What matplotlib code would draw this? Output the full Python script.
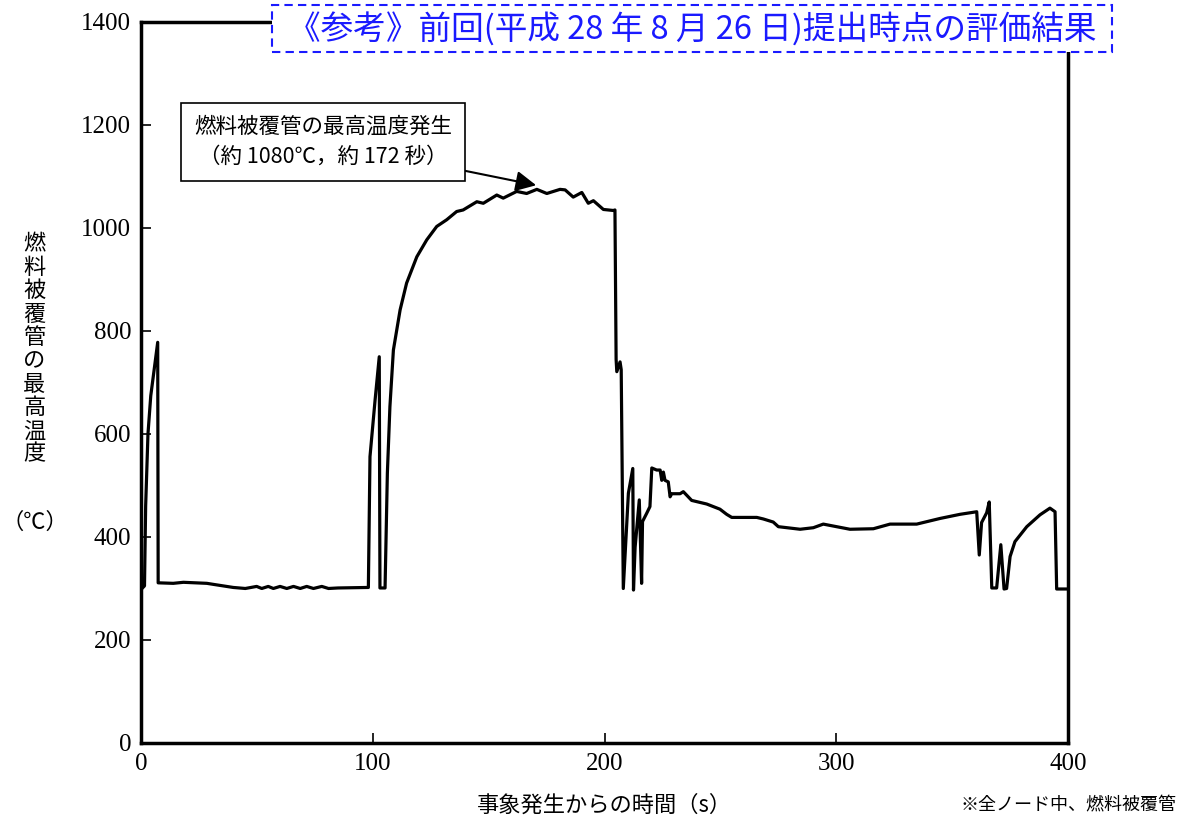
import matplotlib
matplotlib.use("Agg")
import matplotlib.pyplot as plt
from matplotlib.patches import Rectangle

plt.rcParams['font.family'] = ['Noto Sans CJK JP', 'DejaVu Sans']

# 燃料被覆管の最高温度（読み取り値）
time_s = [0, 1.5, 2.0, 3.0, 4.2, 7.2, 7.4, 13.9, 18.3, 28.4, 31.2, 39.8, 45,
          49.9, 52.1, 54.9, 57.1, 60, 62.9, 65.8, 68.7, 71.5, 74.4, 78, 80.9, 85,
          98.1, 98.8, 101, 102.8, 103.1, 105.3, 106.3, 107.4, 108.9, 111.8, 114.6,
          119, 123.3, 127.6, 131.9, 136.2, 139, 144.9, 147.7, 153.5, 156.3, 162.1,
          166.4, 170.8, 175.1, 180.8, 183, 186.5, 190.2, 193, 195.2, 199.5, 203.8,
          204.5, 205.0, 205.3, 206.7, 207.2, 208.1, 210.3, 212.2, 212.5, 213.2,
          215.0, 216.0, 216.4, 218.2, 219.6, 220.4, 222.5, 224.0, 224.7, 225.4,
          226.1, 227.5, 228.3, 229.0, 232.6, 234.0, 237.6, 244.1, 249.8, 252.7,
          254.9, 265.7, 268.5, 272.8, 275.0, 284.4, 290.1, 294.4, 305.9, 316.0,
          323.2, 334.7, 344.8, 353.4, 360.6, 361.7, 362.7, 364.9, 366.0, 367.1,
          369.2, 371.0, 372.4, 373.5, 375.0, 377.1, 382.2, 387.9, 392.2, 394.4,
          395.1, 400]
temp_c = [298, 305, 460, 600, 674, 778, 311, 310, 312, 310, 308, 302, 300,
          304, 300, 304, 300, 304, 300, 304, 300, 304, 300, 304, 300, 301,
          302, 556, 666, 750, 301, 301, 524, 653, 763, 841, 893,
          944, 977, 1003, 1016, 1032, 1035, 1051, 1048, 1064, 1058, 1071,
          1067, 1075, 1067, 1075, 1074, 1060, 1069, 1048, 1053, 1036, 1034,
          1035, 745, 721, 740, 725, 300, 485, 533, 297, 380,
          472, 310, 430, 446, 459, 534, 530, 530, 510, 526,
          510, 507, 478, 484, 484, 488, 471, 464, 454, 444,
          438, 438, 435, 429, 420, 415, 418, 425, 415, 416,
          425, 425, 436, 444, 449, 365, 428, 447, 468, 301,
          301, 385, 299, 300, 362, 391, 420, 443, 456, 449,
          299, 299]

x_ticks = [0, 100, 200, 300, 400]
y_ticks = [0, 200, 400, 600, 800, 1000, 1200, 1400]

fig = plt.figure(figsize=(11.9, 8.27), dpi=100)
ax = fig.add_axes([0.1185, 0.1016, 0.779, 0.8718])

ax.plot(time_s, temp_c, color="black", lw=2.3)

ax.set_xlim(0, 400)
ax.set_ylim(0, 1400)
ax.set_xticks(x_ticks)
ax.set_yticks(y_ticks)
ax.tick_params(direction="in", length=7, width=1.2, pad=7)
for lab in ax.get_xticklabels() + ax.get_yticklabels():
    lab.set_fontfamily("Liberation Serif")
    lab.set_fontsize(18)
for sp in ax.spines.values():
    sp.set_linewidth(2.5)

# 注釈
ax.annotate("燃料被覆管の最高温度発生\n（約 1080℃，約 172 秒）",
            xy=(170.5, 1083), xytext=(78.5, 1167),
            ha="center", va="center", fontsize=15.5, linespacing=1.45,
            bbox=dict(boxstyle="square,pad=0.6", fc="white", ec="black", lw=1.2),
            arrowprops=dict(arrowstyle="-|>,head_length=0.8,head_width=0.4",
                            color="black", lw=1.5, shrinkA=0, shrinkB=0))

# タイトル枠（青破線）
fig.patches.append(Rectangle((0.2286, 0.9371), 0.7059, 0.0568,
                             transform=fig.transFigure, fill=True, fc="white",
                             ec="#1a1aff", ls=(0, (4, 2.5)), lw=1.5, zorder=2))
fig.text(0.5815, 0.964, "《参考》前回(平成 28 年 8 月 26 日)提出時点の評価結果",
         ha="center", va="center", fontsize=23.5, color="#1a1aff", zorder=3)

# 軸ラベル
fig.text(0.029, 0.578, "\n".join("燃料被覆管の最高温度"), ha="center", va="center",
         fontsize=16, linespacing=1.02)
fig.text(0.029, 0.368, "（℃）", ha="center", va="center", fontsize=16)
fig.text(0.508, 0.026, "事象発生からの時間（s）", ha="center", va="center", fontsize=16)
fig.text(0.898, 0.026, "※全ノード中、燃料被覆管", ha="center", va="center", fontsize=13)

fig.savefig("out.png", dpi=100)
